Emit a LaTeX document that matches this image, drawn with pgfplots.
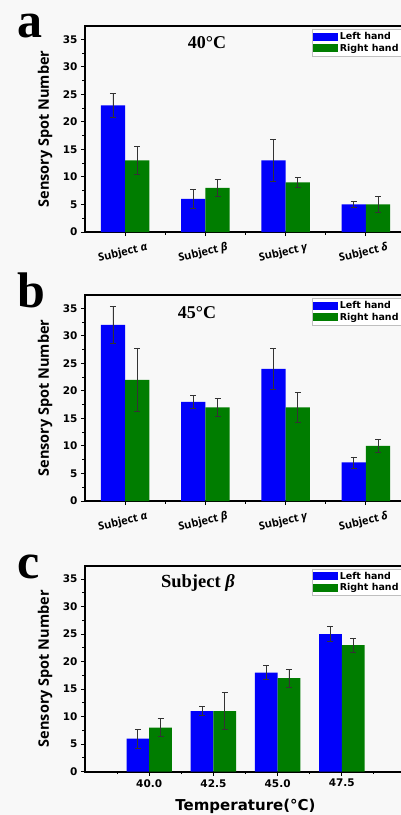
\documentclass[border=0pt]{standalone}
\usepackage{fontspec}
\usepackage{pgfplots}
\pgfplotsset{compat=1.18}
\setmainfont{DejaVu Sans}
\newfontfamily\osans{Open Sans}
\newfontfamily\lserif{Liberation Serif}
\definecolor{barblue}{RGB}{0,0,250}
\definecolor{bargreen}{RGB}{0,125,0}
\definecolor{bgcol}{RGB}{248,248,248}

\pgfplotsset{
  panel/.style={
    scale only axis, width=321pt, height=206pt,
    anchor=south west,
    ybar=0pt,
    ymin=0, ymax=37.41,
    ytick={0,5,...,35}, minor y tick num=1,
    tick pos=left, tick align=outside,
    major tick length=4pt, minor tick length=2.5pt,
    every tick/.style={black, line width=0.9pt},
    axis line style={line width=1.6pt},
    /pgf/number format/assume math mode=true,
    tick label style={font=\bfseries\fontsize{10.5}{12}\selectfont},
    ylabel={Sensory Spot Number},
    ylabel style={font=\osans\bfseries\fontsize{14.5}{16}\selectfont,
      at={(rel axis cs:-0.1246,0.5)}, anchor=center},
    legend style={at={(rel axis cs:0.706,0.985)}, anchor=north west,
      draw=black!25, fill=white, font=\bfseries\fontsize{9.5}{11}\selectfont,
      inner sep=1pt, row sep=-1pt},
    legend cell align=left,
    error bars/y dir=both, error bars/y explicit,
    error bars/error bar style={line width=0.8pt, black!80},
    error bars/error mark options={rotate=90, line width=0.8pt, black!80, mark size=3pt},
  },
  handbar/.style={legend image code/.code={\fill[##1] (0pt,-4pt) rectangle (25pt,4pt);}},
  leftbar/.style={fill=barblue, draw=none, handbar},
  rightbar/.style={fill=bargreen, draw=none, handbar},
  subj/.style={xmin=-0.5, xmax=3.5, xtick={0,1,2,3}, minor xtick={0.5,1.5,2.5},
    bar width=24.3pt,
    xticklabels={Subject \textit{α}, Subject \textit{β}, Subject \textit{γ}, Subject \textit{δ}},
    xticklabel style={font=\osans\bfseries\fontsize{11}{12}\selectfont,
      rotate=13, anchor=north, xshift=-6pt, yshift=-7pt}},
}
\tikzset{letter/.style={font=\lserif\bfseries\fontsize{50}{50}\selectfont, anchor=base,
    inner sep=0pt, text height=0.68em, text depth=0pt}}

\begin{document}
\begin{tikzpicture}
\path[use as bounding box, fill=bgcol] (0,0) rectangle (401pt,-815pt);

% panel a: 40 C
\begin{axis}[panel, subj, at={(85pt,-232pt)}]
\addplot[leftbar] coordinates {
  (0,23) +- (0,2.15) (1,6) +- (0,1.7) (2,13) +- (0,3.8) (3,5) +- (0,0.55)};
\addplot[rightbar] coordinates {
  (0,13) +- (0,2.5) (1,8) +- (0,1.6) (2,9) +- (0,0.9) (3,5) +- (0,1.4)};
\legend{Left hand, Right hand}
\node[font=\lserif\bfseries\fontsize{18}{20}\selectfont] at (rel axis cs:0.38,0.919) {40°C};
\end{axis}

% panel b: 45 C
\begin{axis}[panel, subj, at={(85pt,-501pt)}]
\addplot[leftbar] coordinates {
  (0,32) +- (0,3.3) (1,18) +- (0,1.25) (2,24) +- (0,3.7) (3,7) +- (0,1.0)};
\addplot[rightbar] coordinates {
  (0,22) +- (0,5.8) (1,17) +- (0,1.6) (2,17) +- (0,2.65) (3,10) +- (0,1.25)};
\legend{Left hand, Right hand}
\node[font=\lserif\bfseries\fontsize{18}{20}\selectfont] at (rel axis cs:0.349,0.917) {45°C};
\end{axis}

% panel c: subject beta vs temperature
\begin{axis}[panel, at={(85pt,-771.7pt)},
  xmin=37.5, xmax=50, xtick={40,42.5,45,47.5},
  minor xtick={38.75,41.25,43.75,46.25,48.75},
  bar width=22.7pt,
  xticklabel style={/pgf/number format/.cd, fixed, fixed zerofill, precision=1},
  xlabel={Temperature(°C)},
  xlabel style={font=\bfseries\fontsize{15}{17}\selectfont,
    at={(rel axis cs:0.5,-0.17)}, anchor=center}]
\addplot[leftbar] coordinates {
  (40,6) +- (0,1.7) (42.5,11) +- (0,0.85) (45,18) +- (0,1.25) (47.5,25) +- (0,1.3)};
\addplot[rightbar] coordinates {
  (40,8) +- (0,1.65) (42.5,11) +- (0,3.4) (45,17) +- (0,1.65) (47.5,23) +- (0,1.25)};
\legend{Left hand, Right hand}
\node[font=\lserif\bfseries\fontsize{18.5}{20}\selectfont] at (rel axis cs:0.352,0.916) {Subject \textit{β}};
\end{axis}

% panel letters
\node[letter] at (30pt,-37pt) {a};
\node[letter] at (31pt,-307pt) {b};
\node[letter] at (29pt,-578pt) {c};
\end{tikzpicture}
\end{document}
